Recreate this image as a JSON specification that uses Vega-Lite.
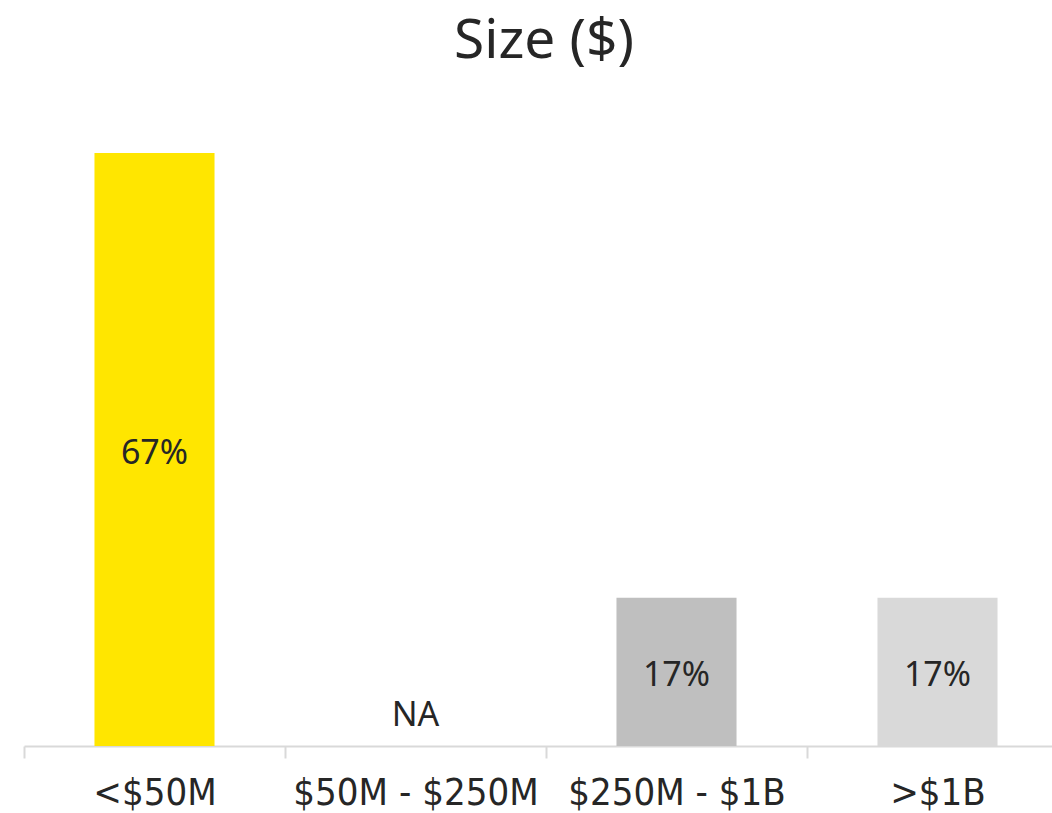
{
  "$schema": "https://vega.github.io/schema/vega-lite/v6.json",
  "autosize": {"type": "none"},
  "width": 1028,
  "height": 646,
  "padding": {"left": 24, "top": 100, "right": 0, "bottom": 67},
  "background": "white",
  "config": {"view": {"stroke": null}},
  "title": {
    "text": "Size ($)",
    "font": "Noto Sans",
    "fontSize": 55,
    "fontWeight": "normal",
    "color": "#262626",
    "anchor": "middle",
    "offset": 30,
    "dx": 6
  },
  "data": {
    "values": [
      {"category": "<$50M", "value": 0.6667, "label": "67%"},
      {"category": "$50M - $250M", "value": 0, "label": "NA"},
      {"category": "$250M - $1B", "value": 0.1667, "label": "17%"},
      {"category": ">$1B", "value": 0.1667, "label": "17%"}
    ]
  },
  "encoding": {
    "x": {
      "field": "category",
      "type": "nominal",
      "sort": null,
      "scale": {"range": [0, 1044], "paddingInner": 0, "paddingOuter": 0},
      "axis": {
        "title": null,
        "labelAngle": 0,
        "labelFont": "DejaVu Sans Condensed",
        "labelFontSize": 38,
        "labelLimit": 400,
        "labelColor": "#262626",
        "labelPadding": 16,
        "domainColor": "#D9D9D9",
        "domainWidth": 2,
        "tickColor": "#D9D9D9",
        "tickWidth": 2,
        "tickSize": 12,
        "tickBand": "extent"
      }
    }
  },
  "layer": [
    {
      "mark": {"type": "bar", "width": {"band": 0.46}},
      "encoding": {
        "y": {"field": "value", "type": "quantitative", "scale": {"domain": [0, 0.7263]}, "axis": null},
        "color": {
          "field": "category",
          "type": "nominal",
          "sort": null,
          "scale": {"domain": ["<$50M", "$50M - $250M", "$250M - $1B", ">$1B"], "range": ["#FFE600", "#FFFFFF", "#BFBFBF", "#D9D9D9"]},
          "legend": null
        }
      }
    },
    {
      "transform": [{"filter": "datum.value > 0"}, {"calculate": "datum.value / 2", "as": "mid"}],
      "mark": {"type": "text", "font": "Noto Sans", "fontSize": 34, "color": "#262626", "baseline": "middle", "dy": 4},
      "encoding": {
        "y": {"field": "mid", "type": "quantitative", "scale": {"domain": [0, 0.7263]}, "axis": null},
        "text": {"field": "label"}
      }
    },
    {
      "transform": [{"filter": "datum.value == 0"}],
      "mark": {"type": "text", "font": "Noto Sans", "fontSize": 34, "color": "#262626", "baseline": "middle", "dy": -30},
      "encoding": {
        "y": {"field": "value", "type": "quantitative", "scale": {"domain": [0, 0.7263]}, "axis": null},
        "text": {"field": "label"}
      }
    }
  ]
}
